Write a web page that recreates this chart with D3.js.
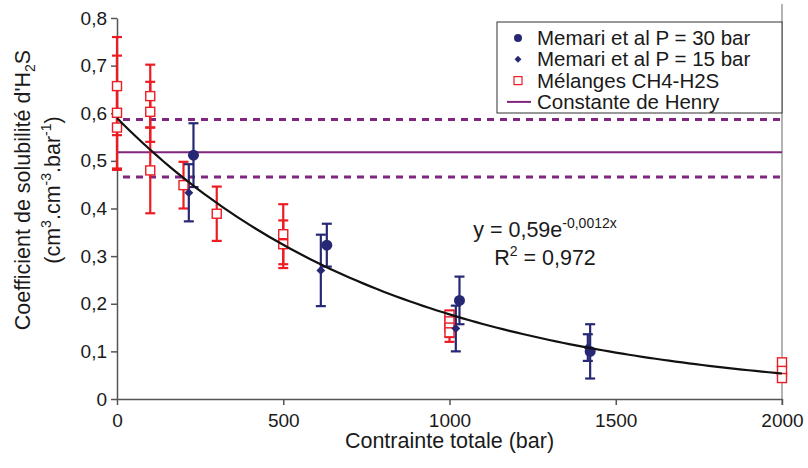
<!DOCTYPE html>
<html>
<head>
<meta charset="utf-8">
<script src="https://cdn.jsdelivr.net/npm/d3@7"></script>
<style>
body { margin: 0; background: #fff; }
text { font-family: "Liberation Sans", Arial, sans-serif; fill: #1a1a1a; }
</style>
</head>
<body>
<div id="chart"></div>
<script>
var width = 808,
	height = 468;

var navy = "#262873",
	red = "#ec1c24",
	purple = "#80267f";

// Memari et al P = 30 bar : pressure, coefficient, error
var p30 = [
	{x: 230, y: 0.512, e: 0.067},
	{x: 631, y: 0.323, e: 0.045},
	{x: 1030, y: 0.207, e: 0.05},
	{x: 1423, y: 0.100, e: 0.057}
];
// Memari et al P = 15 bar
var p15 = [
	{x: 216, y: 0.433, e: 0.06},
	{x: 613, y: 0.270, e: 0.075},
	{x: 1019, y: 0.148, e: 0.048},
	{x: 1416, y: 0.108, e: 0.028}
];
// Mélanges CH4-H2S
var melanges = [
	{x: 0, y: 0.657, e: 0.103},
	{x: 0, y: 0.601, e: 0.12},
	{x: 0, y: 0.570, e: 0.086},
	{x: 100, y: 0.636, e: 0.066},
	{x: 100, y: 0.603, e: 0.063},
	{x: 100, y: 0.480, e: 0.09},
	{x: 200, y: 0.449, e: 0.049},
	{x: 300, y: 0.389, e: 0.057},
	{x: 500, y: 0.346, e: 0.063},
	{x: 500, y: 0.325, e: 0.05},
	{x: 1000, y: 0.176, e: 0.01},
	{x: 1000, y: 0.163, e: 0.012},
	{x: 1000, y: 0.150, e: 0.02},
	{x: 1000, y: 0.140, e: 0.02},
	{x: 2000, y: 0.077, e: 0},
	{x: 2000, y: 0.059, e: 0},
	{x: 2000, y: 0.044, e: 0}
];

var henry = 0.518,
	henryBand = [0.466, 0.587];

var fitA = 0.59,
	fitB = -0.0012;

var xTicks = [0, 500, 1000, 1500, 2000];
var yTicks = [0, 0.1, 0.2, 0.3, 0.4, 0.5, 0.6, 0.7, 0.8];

var legendLabels = ["Memari et al P = 30 bar", "Memari et al P = 15 bar", "Mélanges CH4-H2S", "Constante de Henry"];

var margin = {left: 117, right: 26, top: 18, bottom: 69};

var x = d3.scaleLinear().domain([0, 2000]).range([margin.left, width - margin.right]);
var y = d3.scaleLinear().domain([0, 0.8]).range([height - margin.bottom, margin.top]);

var svg = d3.select("#chart").append("svg")
	.attr("width", width)
	.attr("height", height)
	.style("background-color", "#fff");

// right frame line
svg.append("line")
	.attr("x1", x(2000)).attr("x2", x(2000))
	.attr("y1", 4).attr("y2", y(0) + 6)
	.attr("stroke", "#9a9a9a").attr("stroke-width", 1.5);

var fmt = function(d){
	return d === 0 ? "0" : d3.format(".1f")(d).replace(".", ",");
};

var xAxis = svg.append("g")
	.attr("transform", "translate(0," + y(0) + ")")
	.call(d3.axisBottom(x).tickValues(xTicks).tickFormat(d3.format("d")).tickSize(6).tickSizeOuter(0));
var yAxis = svg.append("g")
	.attr("transform", "translate(" + x(0) + ",0)")
	.call(d3.axisLeft(y).tickValues(yTicks).tickFormat(fmt).tickSize(6).tickSizeOuter(0));

[xAxis, yAxis].forEach(function(g){
	g.select(".domain").attr("stroke", "#555").attr("stroke-width", 1.5);
	g.selectAll(".tick line").attr("stroke", "#555").attr("stroke-width", 1.5);
	g.selectAll(".tick text")
		.style("font-family", "Liberation Sans, Arial, sans-serif")
		.style("font-size", "19px")
		.attr("fill", "#1a1a1a");
});
xAxis.selectAll(".tick text").attr("dy", "1.0em");
yAxis.selectAll(".tick text").attr("x", -10);

// henry line and band
svg.append("line")
	.attr("x1", x(0)).attr("x2", x(2000))
	.attr("y1", y(henry)).attr("y2", y(henry))
	.attr("stroke", purple).attr("stroke-width", 2);
svg.selectAll(".band")
	.data(henryBand)
	.enter().append("line")
	.attr("x1", x(0) + 6).attr("x2", x(2000))
	.attr("y1", function(d){ return y(d); })
	.attr("y2", function(d){ return y(d); })
	.attr("stroke", purple).attr("stroke-width", 3)
	.attr("stroke-dasharray", "7,6");

function errorBars(data, color, cls){
	var g = svg.append("g").attr("class", cls)
		.attr("stroke", color).attr("stroke-width", 2.2);
	data.filter(function(d){ return d.e > 0; }).forEach(function(d){
		var cx = x(d.x);
		g.append("line")
			.attr("x1", cx).attr("x2", cx)
			.attr("y1", y(d.y - d.e)).attr("y2", y(d.y + d.e));
		[d.y - d.e, d.y + d.e].forEach(function(v){
			g.append("line")
				.attr("x1", cx - 5).attr("x2", cx + 5)
				.attr("y1", y(v)).attr("y2", y(v));
		});
	});
}

errorBars(melanges, red, "err-mel");
errorBars(p15, navy, "err-p15");
errorBars(p30, navy, "err-p30");

svg.selectAll(".mel")
	.data(melanges)
	.enter().append("rect")
	.attr("class", "mel")
	.attr("x", function(d){ return x(d.x) - 4.5; })
	.attr("y", function(d){ return y(d.y) - 4.5; })
	.attr("width", 9).attr("height", 9)
	.attr("fill", "#fff").attr("stroke", red).attr("stroke-width", 1.4);

svg.selectAll(".p15")
	.data(p15)
	.enter().append("path")
	.attr("class", "p15")
	.attr("d", d3.symbol().type(d3.symbolDiamond2).size(50))
	.attr("transform", function(d){ return "translate(" + x(d.x) + "," + y(d.y) + ")"; })
	.attr("fill", navy);

svg.selectAll(".p30")
	.data(p30)
	.enter().append("circle")
	.attr("class", "p30")
	.attr("cx", function(d){ return x(d.x); })
	.attr("cy", function(d){ return y(d.y); })
	.attr("r", 5.5)
	.attr("fill", navy);

// exponential trend line
var fitX = d3.range(0, 2001, 20);
svg.append("path")
	.datum(fitX)
	.attr("fill", "none").attr("stroke", "#111").attr("stroke-width", 2.2)
	.attr("d", d3.line()
		.x(function(d){ return x(d); })
		.y(function(d){ return y(fitA * Math.exp(fitB * d)); }));

// equation
var eq = svg.append("text")
	.attr("x", 545).attr("y", 237)
	.attr("text-anchor", "middle")
	.style("font-size", "21.5px");
eq.append("tspan").text("y = 0,59e");
eq.append("tspan").attr("dy", -9).style("font-size", "14px").text("-0,0012x");

var r2 = svg.append("text")
	.attr("x", 545).attr("y", 265)
	.attr("text-anchor", "middle")
	.style("font-size", "21.5px");
r2.append("tspan").text("R");
r2.append("tspan").attr("dy", -9).style("font-size", "14px").text("2");
r2.append("tspan").attr("dy", 9).text(" = 0,972");

// axis titles
svg.append("text")
	.attr("x", x(1000)).attr("y", 448)
	.attr("text-anchor", "middle")
	.style("font-size", "21.5px")
	.text("Contrainte totale (bar)");

var yt1 = svg.append("text")
	.attr("transform", "translate(30,190) rotate(-90)")
	.attr("text-anchor", "middle")
	.style("font-size", "21.5px");
yt1.append("tspan").text("Coefficient de solubilité d'H");
yt1.append("tspan").attr("dy", 5).style("font-size", "14px").text("2");
yt1.append("tspan").attr("dy", -5).text("S");

var yt2 = svg.append("text")
	.attr("transform", "translate(60,190) rotate(-90)")
	.attr("text-anchor", "middle")
	.style("font-size", "21.5px");
yt2.append("tspan").text("(cm");
yt2.append("tspan").attr("dy", -9).style("font-size", "14px").text("3");
yt2.append("tspan").attr("dy", 9).text(".cm");
yt2.append("tspan").attr("dy", -9).style("font-size", "14px").text("-3");
yt2.append("tspan").attr("dy", 9).text(".bar");
yt2.append("tspan").attr("dy", -9).style("font-size", "14px").text("-1");
yt2.append("tspan").attr("dy", 9).text(")");

// legend
var legend = svg.append("g").attr("transform", "translate(497,22)");
legend.append("rect")
	.attr("width", 285).attr("height", 91)
	.attr("fill", "#fff").attr("stroke", "#333").attr("stroke-width", 1);

var rows = legend.selectAll(".row")
	.data(legendLabels)
	.enter().append("g")
	.attr("class", "row")
	.attr("transform", function(d, i){ return "translate(0," + (16 + i * 21.3) + ")"; });

rows.append("text")
	.attr("x", 40).attr("dy", "0.35em")
	.style("font-size", "20.5px")
	.text(function(d){ return d; });

legend.append("circle").attr("cx", 21).attr("cy", 16).attr("r", 4).attr("fill", navy);
legend.append("path")
	.attr("d", d3.symbol().type(d3.symbolDiamond2).size(30))
	.attr("transform", "translate(21," + (16 + 21.3) + ")")
	.attr("fill", navy);
legend.append("rect")
	.attr("x", 17).attr("y", 16 + 2 * 21.3 - 4)
	.attr("width", 8).attr("height", 8)
	.attr("fill", "#fff").attr("stroke", red).attr("stroke-width", 1.2);
legend.append("line")
	.attr("x1", 10).attr("x2", 34)
	.attr("y1", 16 + 3 * 21.3).attr("y2", 16 + 3 * 21.3)
	.attr("stroke", purple).attr("stroke-width", 2);
</script>
</body>
</html>
